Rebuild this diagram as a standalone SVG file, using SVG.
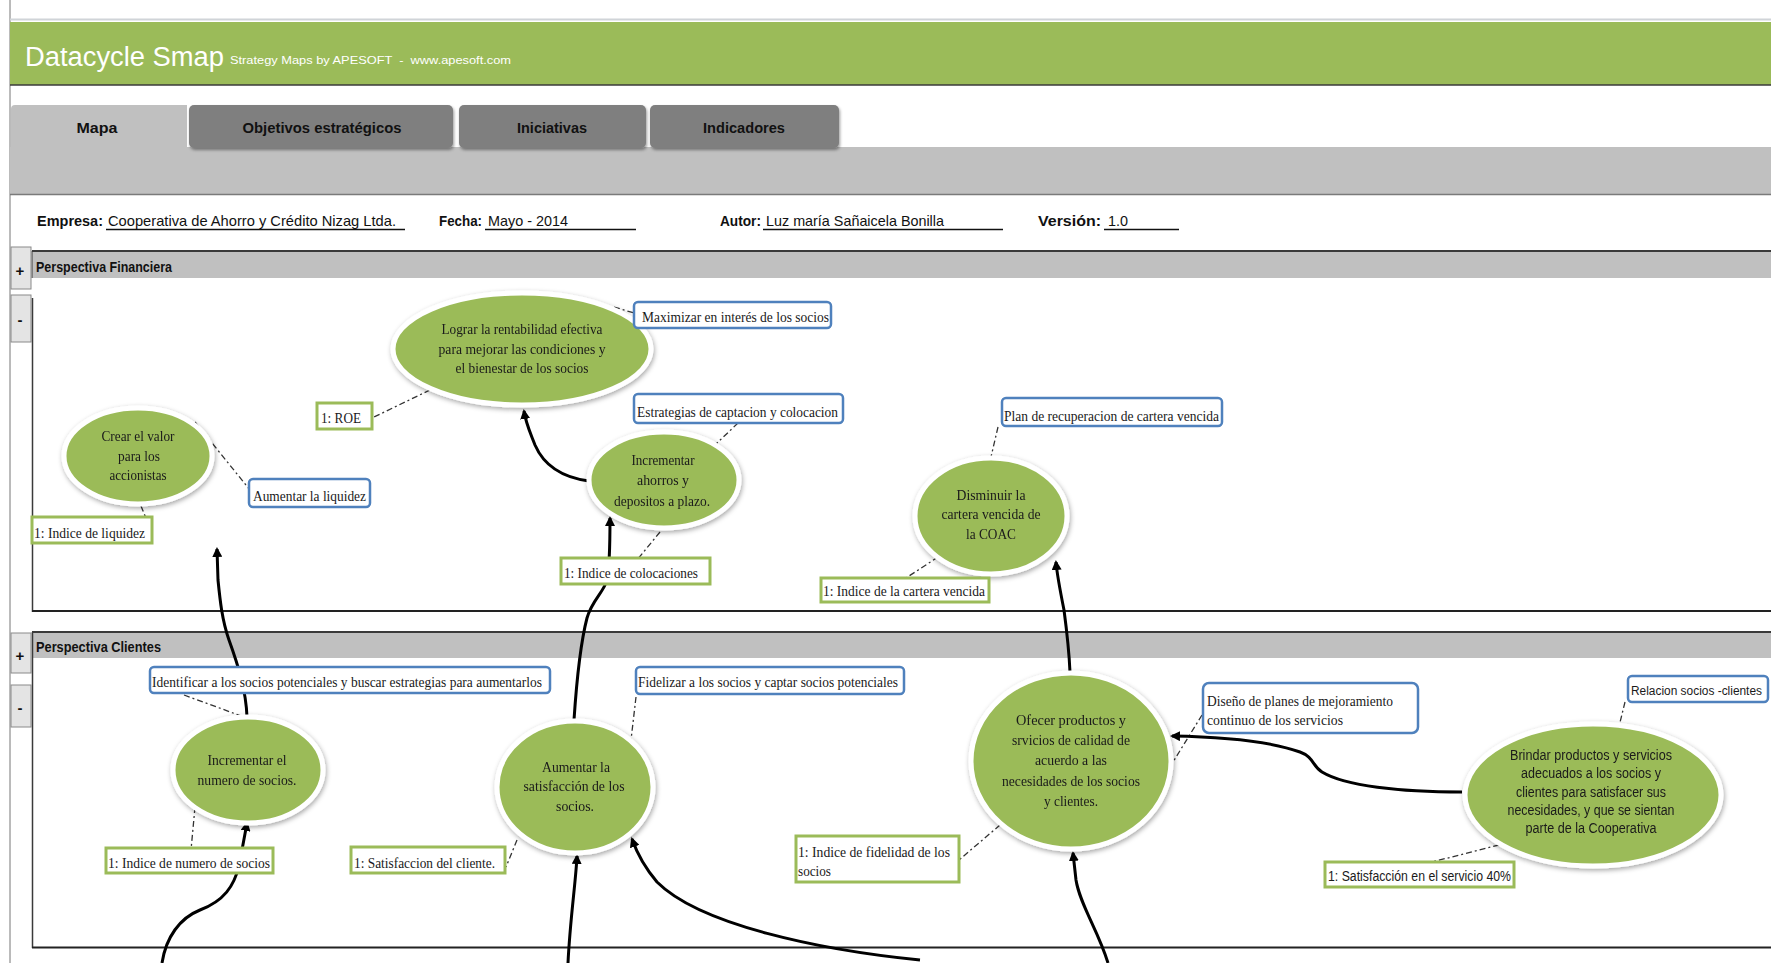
<svg xmlns="http://www.w3.org/2000/svg" width="1771" height="963" viewBox="0 0 1771 963">
  <style>
    .ui { font-family: "Liberation Sans", Arial, sans-serif; }
    .ser { font-family: "Liberation Serif", "Times New Roman", serif; fill: #1a1a1a; }
    .obj { fill: #9bbb59; stroke: #ffffff; stroke-width: 5; }
    .ini { fill: #ffffff; stroke: #4f81bd; stroke-width: 2.5; }
    .kpi { fill: #ffffff; stroke: #9bbb59; stroke-width: 3; }
    .dash { fill: none; stroke: #333; stroke-width: 1.3; stroke-dasharray: 6 3 2 3; }
    .arr { fill: none; stroke: #000; stroke-width: 3; marker-end: url(#tip); }
    .tab { fill: #7f7f7f; }
    .btn { fill: #e4e4e4; stroke: #8a8a8a; stroke-width: 1; }
    .lbl { font-family: "Liberation Sans", Arial, sans-serif; font-weight: bold; font-size: 15px; fill: #111; }
    .val { font-family: "Liberation Sans", Arial, sans-serif; font-size: 15px; fill: #111; }
  </style>
  <defs>
    <marker id="tip" viewBox="0 0 10 10" refX="8" refY="5" markerWidth="10" markerHeight="10" markerUnits="userSpaceOnUse" orient="auto">
      <path d="M0,0 L10,5 L0,10 Z" fill="#000"/>
    </marker>
    <filter id="halo" x="-20%" y="-20%" width="140%" height="140%">
      <feGaussianBlur in="SourceAlpha" stdDeviation="2.5"/>
      <feOffset dx="1" dy="2" result="b"/>
      <feFlood flood-color="#000" flood-opacity="0.35"/>
      <feComposite in2="b" operator="in"/>
      <feMerge><feMergeNode/><feMergeNode in="SourceGraphic"/></feMerge>
    </filter>
    <filter id="tabshadow" x="-10%" y="-20%" width="120%" height="150%">
      <feGaussianBlur in="SourceAlpha" stdDeviation="1.5"/>
      <feOffset dx="1" dy="2" result="b"/>
      <feFlood flood-color="#000" flood-opacity="0.4"/>
      <feComposite in2="b" operator="in"/>
      <feMerge><feMergeNode/><feMergeNode in="SourceGraphic"/></feMerge>
    </filter>
  </defs>

  <rect width="1771" height="963" fill="#ffffff"/>

  <!-- application frame -->
  <g id="frame">
    <line x1="10" y1="0" x2="10" y2="963" stroke="#777" stroke-width="1"/>
    <line x1="10" y1="19.5" x2="1771" y2="19.5" stroke="#d0d4d8" stroke-width="2"/>
    <rect x="10" y="22" width="1761" height="63" fill="#9bbb59"/>
    <line x1="10" y1="85" x2="1771" y2="85" stroke="#3a3a3a" stroke-width="1.5"/>
    <text class="ui" x="25" y="66" font-size="27" fill="#ffffff" textLength="199" lengthAdjust="spacingAndGlyphs">Datacycle Smap</text>
    <text class="ui" x="230" y="64" font-size="11" fill="#ffffff" xml:space="preserve" textLength="281" lengthAdjust="spacingAndGlyphs">Strategy Maps by APESOFT  -  www.apesoft.com</text>

    <!-- tabs -->
    <rect x="10" y="147" width="1761" height="47" fill="#c0c0c0"/>
    <line x1="10" y1="194.5" x2="1771" y2="194.5" stroke="#7a7a7a" stroke-width="1.5"/>
    <path d="M11,147 L11,109 Q11,105 15,105 L187,105 L187,147 Z" fill="#c0c0c0"/>
    <rect class="tab" x="189" y="105" width="264" height="43" rx="5" filter="url(#tabshadow)"/>
    <rect class="tab" x="459" y="105" width="187" height="43" rx="5" filter="url(#tabshadow)"/>
    <rect class="tab" x="650" y="105" width="189" height="43" rx="5" filter="url(#tabshadow)"/>
    <text class="lbl" x="97" y="133" font-size="16" text-anchor="middle" textLength="41" lengthAdjust="spacingAndGlyphs">Mapa</text>
    <text class="lbl" x="322" y="133" font-size="16" text-anchor="middle" textLength="159" lengthAdjust="spacingAndGlyphs">Objetivos estratégicos</text>
    <text class="lbl" x="552" y="133" font-size="16" text-anchor="middle" textLength="70" lengthAdjust="spacingAndGlyphs">Iniciativas</text>
    <text class="lbl" x="744" y="133" font-size="16" text-anchor="middle" textLength="82" lengthAdjust="spacingAndGlyphs">Indicadores</text>

    <!-- document info -->
    <text class="lbl" x="37" y="226" textLength="66" lengthAdjust="spacingAndGlyphs">Empresa:</text>
    <text class="val" x="108" y="226" textLength="288" lengthAdjust="spacingAndGlyphs">Cooperativa de Ahorro y Crédito Nizag Ltda.</text>
    <line x1="106" y1="229.5" x2="405" y2="229.5" stroke="#111" stroke-width="1.5"/>
    <text class="lbl" x="439" y="226" textLength="43" lengthAdjust="spacingAndGlyphs">Fecha:</text>
    <text class="val" x="488" y="226" textLength="80" lengthAdjust="spacingAndGlyphs">Mayo - 2014</text>
    <line x1="485" y1="229.5" x2="636" y2="229.5" stroke="#111" stroke-width="1.5"/>
    <text class="lbl" x="720" y="226" textLength="41" lengthAdjust="spacingAndGlyphs">Autor:</text>
    <text class="val" x="766" y="226" textLength="178" lengthAdjust="spacingAndGlyphs">Luz maría Sañaicela Bonilla</text>
    <line x1="763" y1="229.5" x2="1003" y2="229.5" stroke="#111" stroke-width="1.5"/>
    <text class="lbl" x="1038" y="226" textLength="63" lengthAdjust="spacingAndGlyphs">Versión:</text>
    <text class="val" x="1108" y="226" textLength="20" lengthAdjust="spacingAndGlyphs">1.0</text>
    <line x1="1104" y1="229.5" x2="1179" y2="229.5" stroke="#111" stroke-width="1.5"/>
  </g>

  <!-- perspective lanes -->
  <g id="lane-financiera">
    <rect x="32" y="251" width="1739" height="27" fill="#c0c0c0"/>
    <line x1="32" y1="251" x2="1771" y2="251" stroke="#3a3a3a" stroke-width="2"/>
    <line x1="32" y1="251" x2="32" y2="278" stroke="#3a3a3a" stroke-width="1"/>
    <text class="lbl" x="36" y="272" font-size="14" textLength="136" lengthAdjust="spacingAndGlyphs">Perspectiva Financiera</text>
    <rect class="btn" x="11" y="247" width="20" height="42"/>
    <text class="lbl" x="20" y="276" font-size="22" text-anchor="middle">+</text>
    <rect class="btn" x="11" y="295" width="20" height="47"/>
    <text class="lbl" x="20" y="325" font-size="20" text-anchor="middle">-</text>
    <line x1="32.5" y1="298" x2="32.5" y2="612" stroke="#3a3a3a" stroke-width="1.5"/>
    <line x1="32" y1="611" x2="1771" y2="611" stroke="#222" stroke-width="2"/>
  </g>

  <g id="lane-clientes">
    <rect x="32" y="632" width="1739" height="26" fill="#c0c0c0"/>
    <line x1="32" y1="632" x2="1771" y2="632" stroke="#3a3a3a" stroke-width="2"/>
    <text class="lbl" x="36" y="652" font-size="14" textLength="125" lengthAdjust="spacingAndGlyphs">Perspectiva Clientes</text>
    <rect class="btn" x="11" y="633" width="20" height="40"/>
    <text class="lbl" x="20" y="661" font-size="22" text-anchor="middle">+</text>
    <rect class="btn" x="11" y="685" width="20" height="42"/>
    <text class="lbl" x="20" y="713" font-size="20" text-anchor="middle">-</text>
    <line x1="32.5" y1="632" x2="32.5" y2="948" stroke="#3a3a3a" stroke-width="1.5"/>
    <line x1="32" y1="947.5" x2="1771" y2="947.5" stroke="#222" stroke-width="2"/>
  </g>

  <!-- connectors -->
  <g id="connectors">
    <!-- objective to initiative / indicator links -->
    <path class="dash" d="M614,307 L634,313"/>
    <path class="dash" d="M430,390 L372,418"/>
    <path class="dash" d="M195,422 L250,490"/>
    <path class="dash" d="M141,506 L150,528"/>
    <path class="dash" d="M738,423 L716,444"/>
    <path class="dash" d="M660,532 L637,560"/>
    <path class="dash" d="M998,427 L991,457"/>
    <path class="dash" d="M938,557 L906,578"/>
    <path class="dash" d="M184,695 L244,717"/>
    <path class="dash" d="M195,807 L191,850"/>
    <path class="dash" d="M636,697 L631,740"/>
    <path class="dash" d="M517,840 L506,867"/>
    <path class="dash" d="M1202,715 L1173,762"/>
    <path class="dash" d="M1000,825 L959,860"/>
    <path class="dash" d="M1625,702 L1614,747"/>
    <path class="dash" d="M1499,845 L1420,865"/>

    <!-- cause and effect arrows -->
    <path class="arr" d="M589,481 C566,478 545,468 535,445 C530,432 526,424 524,411"/>
    <path class="arr" d="M574,720 C576,690 580,645 587,618 C592,600 604,592 607,580 C610,565 610,540 610,518"/>
    <path class="arr" d="M247,717 C246,690 238,665 229,640 C222,620 220,600 218,580 L217,549"/>
    <path class="arr" d="M1070,672 C1069,650 1066,625 1064,610 C1060,590 1057,575 1056,562"/>
    <path class="arr" stroke-width="4" d="M1462,792 C1400,792 1345,786 1322,772 C1312,766 1314,757 1300,752 C1275,743 1230,737 1172,736"/>
    <path class="arr" d="M162,963 C166,937 180,918 200,910 C224,901 234,886 239,866 L247,823"/>
    <path class="arr" d="M568,963 C570,920 576,880 577,856"/>
    <path class="arr" stroke-width="5.5" d="M920,960 C820,950 700,925 657,882 C646,869 638,856 632,839"/>
    <path class="arr" d="M1108,963 C1098,930 1080,905 1076,880 L1073,853"/>
  </g>

  <!-- objectives: financial perspective -->
  <g id="obj-lograr-rentabilidad" filter="url(#halo)">
    <ellipse class="obj" cx="522" cy="349" rx="129" ry="56"/>
    <text class="ser" font-size="15" text-anchor="middle" x="522" y="334" textLength="161" lengthAdjust="spacingAndGlyphs">Lograr la rentabilidad efectiva</text>
    <text class="ser" font-size="15" text-anchor="middle" x="522" y="354" textLength="167" lengthAdjust="spacingAndGlyphs">para mejorar las condiciones y</text>
    <text class="ser" font-size="15" text-anchor="middle" x="522" y="373" textLength="133" lengthAdjust="spacingAndGlyphs">el bienestar de los socios</text>
  </g>
  <g id="obj-crear-valor" filter="url(#halo)">
    <ellipse class="obj" cx="138" cy="456" rx="74" ry="48"/>
    <text class="ser" font-size="15" text-anchor="middle" x="138" y="441" textLength="73" lengthAdjust="spacingAndGlyphs">Crear el valor</text>
    <text class="ser" font-size="15" text-anchor="middle" x="139" y="461" textLength="42" lengthAdjust="spacingAndGlyphs">para los</text>
    <text class="ser" font-size="15" text-anchor="middle" x="138" y="480" textLength="57" lengthAdjust="spacingAndGlyphs">accionistas</text>
  </g>
  <g id="obj-incrementar-ahorros" filter="url(#halo)">
    <ellipse class="obj" cx="664" cy="480" rx="75" ry="48"/>
    <text class="ser" font-size="15" text-anchor="middle" x="663" y="465" textLength="63" lengthAdjust="spacingAndGlyphs">Incrementar</text>
    <text class="ser" font-size="15" text-anchor="middle" x="663" y="485" textLength="52" lengthAdjust="spacingAndGlyphs">ahorros y</text>
    <text class="ser" font-size="15" text-anchor="middle" x="662" y="506" textLength="96" lengthAdjust="spacingAndGlyphs">depositos a plazo.</text>
  </g>
  <g id="obj-disminuir-cartera" filter="url(#halo)">
    <ellipse class="obj" cx="991" cy="516" rx="76" ry="58"/>
    <text class="ser" font-size="15" text-anchor="middle" x="991" y="500" textLength="69" lengthAdjust="spacingAndGlyphs">Disminuir la</text>
    <text class="ser" font-size="15" text-anchor="middle" x="991" y="519" textLength="99" lengthAdjust="spacingAndGlyphs">cartera vencida de</text>
    <text class="ser" font-size="15" text-anchor="middle" x="991" y="539" textLength="50" lengthAdjust="spacingAndGlyphs">la COAC</text>
  </g>

  <!-- objectives: customer perspective -->
  <g id="obj-incrementar-socios" filter="url(#halo)">
    <ellipse class="obj" cx="248" cy="770" rx="75" ry="53"/>
    <text class="ser" font-size="15" text-anchor="middle" x="247" y="765" textLength="79" lengthAdjust="spacingAndGlyphs">Incrementar el</text>
    <text class="ser" font-size="15" text-anchor="middle" x="247" y="785" textLength="99" lengthAdjust="spacingAndGlyphs">numero de socios.</text>
  </g>
  <g id="obj-aumentar-satisfaccion" filter="url(#halo)">
    <ellipse class="obj" cx="575" cy="787" rx="78" ry="66"/>
    <text class="ser" font-size="15" text-anchor="middle" x="576" y="772" textLength="68" lengthAdjust="spacingAndGlyphs">Aumentar la</text>
    <text class="ser" font-size="15" text-anchor="middle" x="574" y="791" textLength="101" lengthAdjust="spacingAndGlyphs">satisfacción de los</text>
    <text class="ser" font-size="15" text-anchor="middle" x="575" y="811" textLength="38" lengthAdjust="spacingAndGlyphs">socios.</text>
  </g>
  <g id="obj-ofrecer-productos" filter="url(#halo)">
    <ellipse class="obj" cx="1071" cy="761" rx="100" ry="88"/>
    <text class="ser" font-size="15" text-anchor="middle" x="1071" y="725" textLength="110" lengthAdjust="spacingAndGlyphs">Ofecer productos y</text>
    <text class="ser" font-size="15" text-anchor="middle" x="1071" y="745" textLength="118" lengthAdjust="spacingAndGlyphs">srvicios de calidad de</text>
    <text class="ser" font-size="15" text-anchor="middle" x="1071" y="765" textLength="72" lengthAdjust="spacingAndGlyphs">acuerdo a las</text>
    <text class="ser" font-size="15" text-anchor="middle" x="1071" y="786" textLength="138" lengthAdjust="spacingAndGlyphs">necesidades de los socios</text>
    <text class="ser" font-size="15" text-anchor="middle" x="1071" y="806" textLength="54" lengthAdjust="spacingAndGlyphs">y clientes.</text>
  </g>
  <g id="obj-brindar-productos" filter="url(#halo)">
    <ellipse class="obj" cx="1593" cy="795" rx="128" ry="71"/>
    <text class="ui" fill="#1a1a1a" font-size="14" text-anchor="middle" x="1591" y="760" textLength="162" lengthAdjust="spacingAndGlyphs">Brindar productos y servicios</text>
    <text class="ui" fill="#1a1a1a" font-size="14" text-anchor="middle" x="1591" y="778" textLength="140" lengthAdjust="spacingAndGlyphs">adecuados a los socios y</text>
    <text class="ui" fill="#1a1a1a" font-size="14" text-anchor="middle" x="1591" y="797" textLength="150" lengthAdjust="spacingAndGlyphs">clientes para satisfacer sus</text>
    <text class="ui" fill="#1a1a1a" font-size="14" text-anchor="middle" x="1591" y="815" textLength="167" lengthAdjust="spacingAndGlyphs">necesidades, y que se sientan</text>
    <text class="ui" fill="#1a1a1a" font-size="14" text-anchor="middle" x="1591" y="833" textLength="131" lengthAdjust="spacingAndGlyphs">parte de la Cooperativa</text>
  </g>

  <!-- initiatives -->
  <g id="ini-maximizar">
    <rect class="ini" x="634" y="302" width="197" height="26" rx="4"/>
    <text class="ser" font-size="15" x="642" y="322" textLength="187" lengthAdjust="spacingAndGlyphs">Maximizar en interés de los socios</text>
  </g>
  <g id="ini-estrategias">
    <rect class="ini" x="634" y="394" width="209" height="29" rx="4"/>
    <text class="ser" font-size="15" x="637" y="417" textLength="201" lengthAdjust="spacingAndGlyphs">Estrategias de captacion y colocacion</text>
  </g>
  <g id="ini-liquidez">
    <rect class="ini" x="249" y="479" width="121" height="28" rx="4"/>
    <text class="ser" font-size="15" x="253" y="501" textLength="113" lengthAdjust="spacingAndGlyphs">Aumentar la liquidez</text>
  </g>
  <g id="ini-plan-recuperacion">
    <rect class="ini" x="1002" y="398" width="220" height="28" rx="4"/>
    <text class="ser" font-size="15" x="1004" y="421" textLength="215" lengthAdjust="spacingAndGlyphs">Plan de recuperacion de cartera vencida</text>
  </g>
  <g id="ini-identificar">
    <rect class="ini" x="150" y="667" width="400" height="26" rx="4"/>
    <text class="ser" font-size="15" x="152" y="687" textLength="390" lengthAdjust="spacingAndGlyphs">Identificar a los socios potenciales y buscar estrategias para aumentarlos</text>
  </g>
  <g id="ini-fidelizar">
    <rect class="ini" x="636" y="667" width="268" height="27" rx="4"/>
    <text class="ser" font-size="15" x="638" y="687" textLength="260" lengthAdjust="spacingAndGlyphs">Fidelizar a los socios y captar socios potenciales</text>
  </g>
  <g id="ini-diseno-planes">
    <rect class="ini" x="1203" y="683" width="215" height="50" rx="6"/>
    <text class="ser" font-size="15" x="1207" y="706" textLength="186" lengthAdjust="spacingAndGlyphs">Diseño de planes de mejoramiento</text>
    <text class="ser" font-size="15" x="1207" y="725" textLength="136" lengthAdjust="spacingAndGlyphs">continuo de los servicios</text>
  </g>
  <g id="ini-relacion">
    <rect class="ini" x="1628" y="676" width="140" height="26" rx="4"/>
    <text class="ui" fill="#1a1a1a" font-size="12" x="1631" y="695" textLength="131" lengthAdjust="spacingAndGlyphs">Relacion socios -clientes</text>
  </g>

  <!-- indicators -->
  <g id="kpi-roe">
    <rect class="kpi" x="317" y="403" width="55" height="26"/>
    <text class="ser" font-size="15" x="321" y="423" textLength="40" lengthAdjust="spacingAndGlyphs">1: ROE</text>
  </g>
  <g id="kpi-liquidez">
    <rect class="kpi" x="32" y="517" width="120" height="26"/>
    <text class="ser" font-size="15" x="34" y="538" textLength="111" lengthAdjust="spacingAndGlyphs">1: Indice de liquidez</text>
  </g>
  <g id="kpi-colocaciones">
    <rect class="kpi" x="561" y="558" width="149" height="26"/>
    <text class="ser" font-size="15" x="564" y="578" textLength="134" lengthAdjust="spacingAndGlyphs">1: Indice de colocaciones</text>
  </g>
  <g id="kpi-cartera-vencida">
    <rect class="kpi" x="821" y="578" width="168" height="24"/>
    <text class="ser" font-size="15" x="823" y="596" textLength="162" lengthAdjust="spacingAndGlyphs">1: Indice de la cartera vencida</text>
  </g>
  <g id="kpi-numero-socios">
    <rect class="kpi" x="106" y="848" width="167" height="25"/>
    <text class="ser" font-size="15" x="108" y="868" textLength="162" lengthAdjust="spacingAndGlyphs">1: Indice de numero de socios</text>
  </g>
  <g id="kpi-satisfaccion-cliente">
    <rect class="kpi" x="351" y="847" width="154" height="26"/>
    <text class="ser" font-size="15" x="354" y="868" textLength="141" lengthAdjust="spacingAndGlyphs">1: Satisfaccion del cliente.</text>
  </g>
  <g id="kpi-fidelidad">
    <rect class="kpi" x="796" y="836" width="163" height="46"/>
    <text class="ser" font-size="15" x="798" y="857" textLength="152" lengthAdjust="spacingAndGlyphs">1: Indice de fidelidad de los</text>
    <text class="ser" font-size="15" x="798" y="876" textLength="33" lengthAdjust="spacingAndGlyphs">socios</text>
  </g>
  <g id="kpi-satisfaccion-servicio">
    <rect class="kpi" x="1325" y="862" width="189" height="25"/>
    <text class="ui" fill="#1a1a1a" font-size="14" x="1328" y="881" textLength="183" lengthAdjust="spacingAndGlyphs">1: Satisfacción en el servicio 40%</text>
  </g>
</svg>
